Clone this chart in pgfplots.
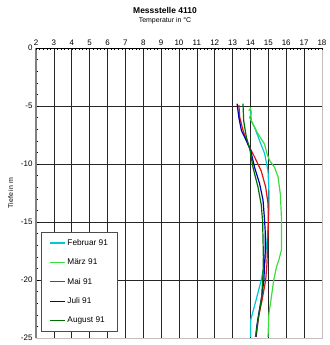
\documentclass[border=0pt]{standalone}
\usepackage{pgfplots}
\pgfplotsset{compat=1.18}
\usetikzlibrary{calc}
\usepackage{fontspec}
\setmainfont{Liberation Sans}
\definecolor{cFeb}{RGB}{0,200,215}
\definecolor{cMar}{RGB}{60,220,60}
\definecolor{cMai}{RGB}{220,20,20}
\definecolor{cJul}{RGB}{0,0,170}
\definecolor{cAug}{RGB}{0,110,0}
\begin{document}
\begin{tikzpicture}[x=1bp,y=1bp]
\begin{axis}[
  name=ax,
  scale only axis, width=286bp, height=290bp,
  xmin=2, xmax=18, ymin=-25, ymax=0,
  xtick={2,...,18}, ytick={0,-5,-10,-15,-20,-25},
  minor y tick num=4,
  xticklabel pos=top,
  xmajorgrids, ymajorgrids,
  grid style={black!85, line width=0.6pt},
  axis line style={gray!50, line width=0.6pt},
  tick style={black, line width=0.5pt},
  major tick length=3bp, minor tick length=2bp,
  xtick style={draw=none},
  ytick pos=left,
  ticklabel style={font=\fontsize{8}{9}\selectfont},
  /pgf/number format/assume math mode=true,
  xticklabel style={yshift=-1bp},
  ylabel={Tiefe in m},
  ylabel style={font=\fontsize{7}{8}\selectfont, yshift=1bp},
  legend style={at={(rel axis cs:0.017,0.366)}, anchor=north west,
    draw=black!70, line width=0.9pt, fill=white,
    font=\fontsize{8.3}{9}\selectfont, row sep=8bp,
    inner xsep=8bp, inner ysep=5bp},
  legend cell align=left,
  legend image code/.code={\draw[#1, line width=1.2pt] (0bp,0bp) -- (15bp,0bp);},
  every axis plot/.append style={line width=1.2pt},
]
\addplot[cFeb] coordinates {(14.0,-5.4)(14.05,-6.3)(14.23,-6.85)(14.51,-8.0)(14.79,-9.1)(14.98,-10.6)(15.03,-12.3)(15.03,-14.0)(14.98,-15.5)(14.9,-17.0)(14.8,-18.5)(14.6,-20.0)(14.3,-21.8)(14.01,-23.45)(14.0,-24.9)};
\addlegendentry{Februar 91}
\addplot[cMar] coordinates {(13.9,-5.4)(14.0,-5.2)(14.05,-5.6)(13.95,-6.0)(14.05,-6.3)(14.42,-7.4)(14.79,-8.3)(14.92,-9.1)(15.07,-9.7)(15.35,-10.3)(15.54,-11.1)(15.67,-12.6)(15.73,-14.6)(15.73,-17.4)(15.6,-18.2)(15.45,-18.9)(15.3,-20.0)(15.17,-21.45)(15.03,-22.9)(14.98,-24.9)};
\addlegendentry{März 91}
\addplot[cMai] coordinates {(13.35,-4.9)(13.4,-6.0)(13.6,-7.2)(13.86,-8.3)(14.23,-9.4)(14.6,-10.6)(14.85,-12.0)(14.98,-13.4)(15.0,-15)(14.98,-16.0)(14.92,-18.6)(14.85,-20)(14.65,-21.7)(14.45,-23.2)(14.32,-24.9)};
\addlegendentry{Mai 91}
\addplot[cJul] coordinates {(13.25,-4.8)(13.35,-6.0)(13.49,-7.1)(13.77,-8.0)(14.01,-8.85)(14.23,-10.3)(14.51,-11.7)(14.70,-13.1)(14.79,-14.9)(14.83,-16.0)(14.83,-17.4)(14.78,-18.9)(14.75,-20.0)(14.6,-21.7)(14.45,-23.0)(14.35,-24.0)(14.3,-24.9)};
\addlegendentry{Juli 91}
\addplot[cAug] coordinates {(13.58,-4.8)(13.62,-6.3)(13.77,-7.7)(13.96,-8.7)(14.14,-10.3)(14.42,-12.0)(14.6,-13.5)(14.68,-15)(14.7,-16.5)(14.72,-18.0)(14.7,-19.5)(14.62,-21.5)(14.45,-23.2)(14.35,-24.2)(14.28,-24.9)};
\addlegendentry{August 91}
\end{axis}
\draw[gray, line width=1.2pt] (ax.south west) -- (ax.north west);
\draw[black, line width=0.6pt] (ax.north west) -- (ax.north east);
\foreach \i in {0,...,80} {\draw[black, line width=0.4pt] ($(ax.north west)!\i/80!(ax.north east)$) -- ++(0,-2bp);}
\node[font=\bfseries\fontsize{8.5}{10}\selectfont] at ($(ax.north west)+(129bp,38bp)$) {Messstelle 4110};
\node[font=\fontsize{7}{8}\selectfont] at ($(ax.north west)+(129bp,27bp)$) {Temperatur in °C};
\pgfresetboundingbox
\path ($(ax.south west)+(-36bp,-7bp)$) rectangle ($(ax.north east)+(8bp,48bp)$);
\end{tikzpicture}
\end{document}
